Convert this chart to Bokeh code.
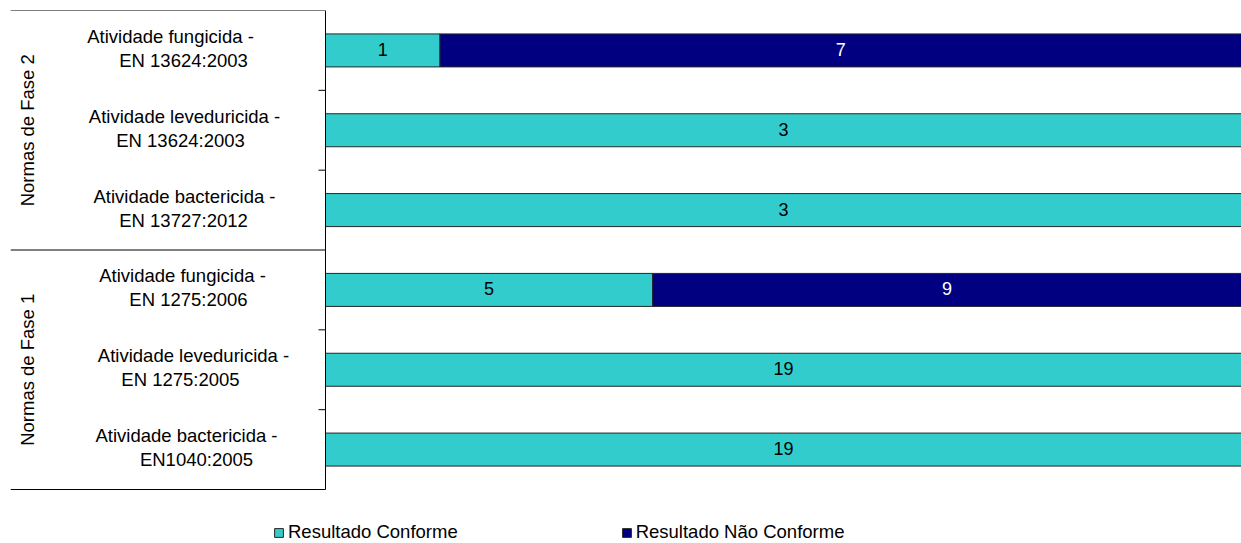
import math
from bokeh.plotting import figure
from bokeh.models import ColumnDataSource, Range1d, Legend, LegendItem
from bokeh.core.properties import value
from bokeh.embed import file_html
from bokeh.resources import INLINE

# ---- data ----
groups = ["Normas de Fase 2", "Normas de Fase 1"]
label_line1 = ["Atividade fungicida -", "Atividade leveduricida -", "Atividade bactericida -",
               "Atividade fungicida -", "Atividade leveduricida -", "Atividade bactericida -"]
label_line2 = ["EN 13624:2003", "EN 13624:2003", "EN 13727:2012",
               "EN 1275:2006", "EN 1275:2005", "EN1040:2005"]
conforme = [1, 3, 3, 5, 19, 19]
nao_conforme = [7, 0, 0, 9, 0, 0]
series_names = ["Resultado Conforme", "Resultado Não Conforme"]
colors = ["#33CCCC", "#000080"]

FONT = "Liberation Sans"
FS = "18.5px"

# ---- layout ----
W, H = 1241, 543
frame_left_px, frame_top_px = 10, 10
frame_w = W - frame_left_px
axis_px = 315            # axis position inside frame (px from left)
px_per_x = frame_w - axis_px
x_start = -axis_px / px_per_x
cat_px = 479 / 6.0
frame_h = H - frame_top_px
y_end_data = frame_h / cat_px
# horizontal centres (page px) of the wrapped label lines, as in the original
line1_cx = [170, 184, 184, 182, 193, 186]
line2_cx = [183, 180, 183, 188, 180, 196]

p = figure(width=W, height=H, output_backend="svg", toolbar_location=None,
           x_range=Range1d(x_start, 1), y_range=Range1d(y_end_data, 0),
           min_border_left=frame_left_px, min_border_right=0,
           min_border_top=frame_top_px, min_border_bottom=0,
           x_axis_location=None, y_axis_location=None)
p.xgrid.visible = False
p.ygrid.visible = False
p.outline_line_color = None

n = len(conforme)
ys = [i + 0.5 for i in range(n)]
totals = [c + d for c, d in zip(conforme, nao_conforme)]
cf = [c / t for c, t in zip(conforme, totals)]

src_c = ColumnDataSource(dict(y=ys, right=cf, mid=[v / 2 for v in cf],
                              txt=[str(v) for v in conforme]))
idx = [i for i in range(n) if nao_conforme[i] > 0]
src_n = ColumnDataSource(dict(y=[ys[i] for i in idx], left=[cf[i] for i in idx],
                              mid=[(cf[i] + 1) / 2 for i in idx],
                              txt=[str(nao_conforme[i]) for i in idx]))

bar_h = 33 / cat_px
r1 = p.hbar(y="y", left=0, right="right", height=bar_h, source=src_c,
            fill_color=colors[0], line_color="#262626", line_width=1)
r2 = p.hbar(y="y", left="left", right=1, height=bar_h, source=src_n,
            fill_color=colors[1], line_color="#262626", line_width=1)

p.text(x="mid", y="y", text="txt", source=src_c, text_align="center", text_baseline="alphabetic",
       y_offset=-1, text_font=value(FONT), text_font_size="18px", text_color="black")
p.text(x="mid", y="y", text="txt", source=src_n, text_align="center", text_baseline="alphabetic",
       y_offset=-1, text_font=value(FONT), text_font_size="18px", text_color="white")

# axis line, ticks, group separators
p.segment(x0=[0], y0=[0], x1=[0], y1=[n], line_color="black", line_width=1)
tick_len = 7 / px_per_x
tick_ys = [i for i in range(1, n) if i % 3 != 0]
p.segment(x0=[-tick_len] * len(tick_ys), y0=tick_ys, x1=[0] * len(tick_ys), y1=tick_ys,
          line_color="black", line_width=1)
sep_ys = [0, 3, 6]
p.segment(x0=[x_start] * 3, y0=sep_ys, x1=[0] * 3, y1=sep_ys, line_color="black", line_width=1)

# category labels
def to_x(page_px):
    return (page_px - frame_left_px - axis_px) / px_per_x

p.text(x=[to_x(v) for v in line1_cx], y=ys, text=label_line1, y_offset=-14, text_align="center",
       text_baseline="alphabetic", text_font=value(FONT), text_font_size=FS, text_color="black")
p.text(x=[to_x(v) for v in line2_cx], y=ys, text=label_line2, y_offset=10, text_align="center",
       text_baseline="alphabetic", text_font=value(FONT), text_font_size=FS, text_color="black")

# group labels
p.text(x=[to_x(27)] * 2, y=[1.5, 4.5], text=groups, angle=math.pi / 2, text_align="center",
       text_baseline="middle", text_font=value(FONT), text_font_size=FS, text_color="black")

legend = Legend(items=[LegendItem(label=series_names[0], renderers=[r1]),
                       LegendItem(label=series_names[1], renderers=[r2])],
                location=(263, 0), orientation="horizontal", spacing=163,
                glyph_width=11, glyph_height=11, label_standoff=4, padding=0, margin=0,
                border_line_color=None, background_fill_alpha=0,
                label_text_font=FONT, label_text_font_size=FS, label_height=20,
                label_text_color="black")
p.add_layout(legend)

open("out.html", "w").write(file_html(p, INLINE))
